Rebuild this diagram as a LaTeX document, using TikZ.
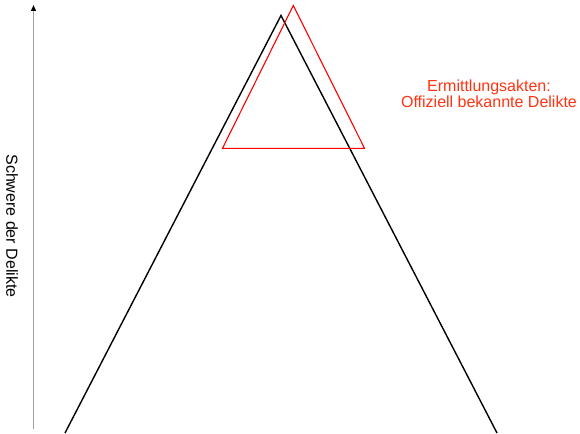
\documentclass[tikz,border=0pt]{standalone}
\usepackage{fontspec}
\setmainfont{Liberation Sans}
\usetikzlibrary{arrows.meta}
\definecolor{filesred}{RGB}{255,51,17}

\begin{document}
\begin{tikzpicture}[x=1pt,y=-1pt,
        pyramid/.style={line width=1.4pt,black},
        known/.style={line width=1.1pt,red},
        axisline/.style={line width=1.3pt,gray!75,-{Triangle[black,length=6pt,width=5pt]}},
        redlabel/.style={text=filesred,font=\fontsize{16}{16.5}\selectfont,align=center}]
        \useasboundingbox (0,0) rectangle (580,433);
        % axis
        \coordinate (axisbottom) at (33.5,429);
        \coordinate (axistop) at (33.5,5);
        \draw[axisline] (axisbottom) -- (axistop);
        \node[rotate=-90,font=\fontsize{16}{18}\selectfont] (severity) at (12,226) {Schwere der Delikte};
        % big pyramid
        \coordinate (apex) at (281,15.5);
        \coordinate (baseleft) at (65,433);
        \coordinate (baseright) at (497,433);
        \draw[pyramid] (baseleft) -- (apex) -- (baseright);
        % known offences
        \coordinate (kapex) at (293.3,5.5);
        \coordinate (kleft) at (222.5,148.3);
        \coordinate (kright) at (364.5,148.3);
        \draw[known] (kapex) -- (kleft) -- (kright) -- cycle;
        \node[redlabel] (files) at (489,94) {Ermittlungsakten:\\Offiziell bekannte Delikte};
\end{tikzpicture}
\end{document}
